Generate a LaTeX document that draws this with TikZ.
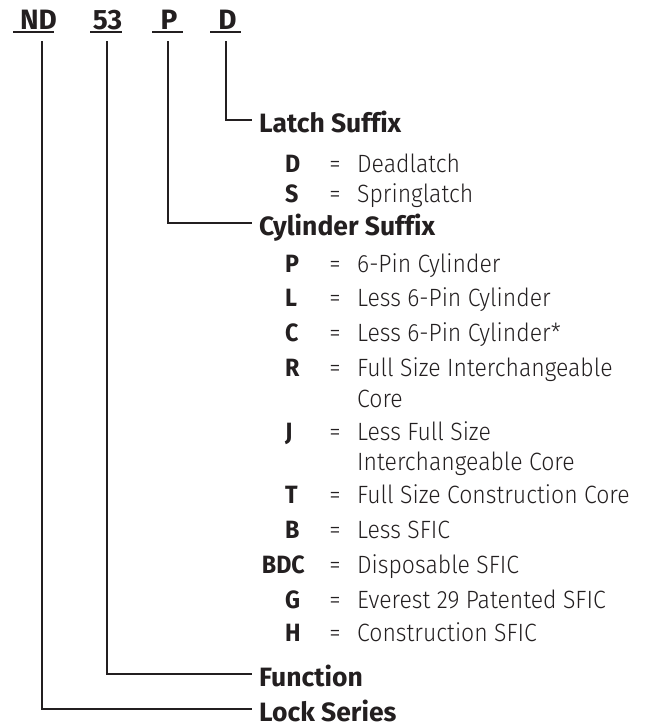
\documentclass[tikz,border=0pt]{standalone}
\usepackage{fontspec}
\setmainfont[FakeStretch=0.93]{Fira Sans}
\newfontfamily\lightfont[FakeStretch=0.92]{Fira Sans Light}
\newfontfamily\headfont[FakeStretch=1.0,Ligatures=NoCommon]{Fira Sans}
\definecolor{ink}{RGB}{35,31,32}
\newcommand\entryrow[4]{%
  \node[key] (k#1) at (285,#2) {#3};
  \node[eq] (e#1) at (335,#2) {=};
  \node[desc] (t#1) at (357,#2) {#4};}
\begin{document}
\begin{tikzpicture}[x=1pt,y=-1pt,
  conn/.style={draw=ink,line width=2.6pt},
  uline/.style={draw=ink,line width=1.6pt},
  code/.style={font=\headfont\fontsize{28}{34}\selectfont\bfseries,text=ink,inner sep=0pt,text depth=0pt,anchor=south},
  head/.style={font=\headfont\fontsize{26.5}{30}\selectfont\bfseries,text=ink,inner xsep=7pt,inner ysep=0pt,text height=25pt,text depth=0pt,anchor=west},
  key/.style={font=\fontsize{25}{33}\selectfont\bfseries,text=ink,inner sep=0pt,anchor=base west},
  eq/.style={font=\lightfont\fontsize{25}{33}\selectfont,text=ink,inner sep=0pt,anchor=base},
  desc/.style={font=\lightfont\fontsize{25}{33}\selectfont,text=ink,inner sep=0pt,anchor=base west}]
\useasboundingbox (0,0) rectangle (646,728);
% header codes
\node[code] (nd) at (38.5,30) {ND};
\node[code] (fn) at (107.5,30) {53};
\node[code] (cy) at (169,30) {P};
\node[code] (la) at (227.5,30) {D};
\draw[uline] (13,32) -- (54,32);
\draw[uline] (90,32) -- (122,32);
\draw[uline] (152,32) -- (183,32);
\draw[uline] (210,32) -- (241,32);
% headings
\node[head] (latch) at (252,120) {Latch Suffix};
\node[head] (cyl) at (252,223) {Cylinder Suffix};
\node[head] (func) at (252,674) {Function};
\node[head] (series) at (252,709) {Lock Series};
% connectors
\draw[conn] ([shift={(-1.5pt,-11pt)}]la.south) |- (latch.west);
\draw[conn] ([shift={(-1pt,-11pt)}]cy.south) |- (cyl.west);
\draw[conn] ([shift={(-0.5pt,-11pt)}]fn.south) |- (func.west);
\draw[conn] ([shift={(3.5pt,-11pt)}]nd.south) |- (series.west);
% latch entries
\entryrow{d}{172}{D}{Deadlatch}
\entryrow{s}{202}{S}{Springlatch}
% cylinder entries
\entryrow{p}{272}{P}{6-Pin Cylinder}
\entryrow{l}{306}{L}{Less 6-Pin Cylinder}
\entryrow{c}{341}{C}{Less 6-Pin Cylinder*}
\entryrow{r}{376}{R}{Full Size Interchangeable}
\node[desc] (trb) at (357,407) {Core};
\entryrow{j}{440}{J}{Less Full Size}
\node[desc] (tjb) at (357,470) {Interchangeable Core};
\entryrow{t}{503}{T}{Full Size Construction Core}
\entryrow{b}{538}{B}{Less SFIC}
\node[key,anchor=base east] (kbdc) at (305,573) {BDC};
\node[eq] (ebdc) at (335,573) {=};
\node[desc] (tbdc) at (357,573) {Disposable SFIC};
\entryrow{g}{608}{G}{Everest 29 Patented SFIC}
\entryrow{h}{641}{H}{Construction SFIC}
\end{tikzpicture}
\end{document}
